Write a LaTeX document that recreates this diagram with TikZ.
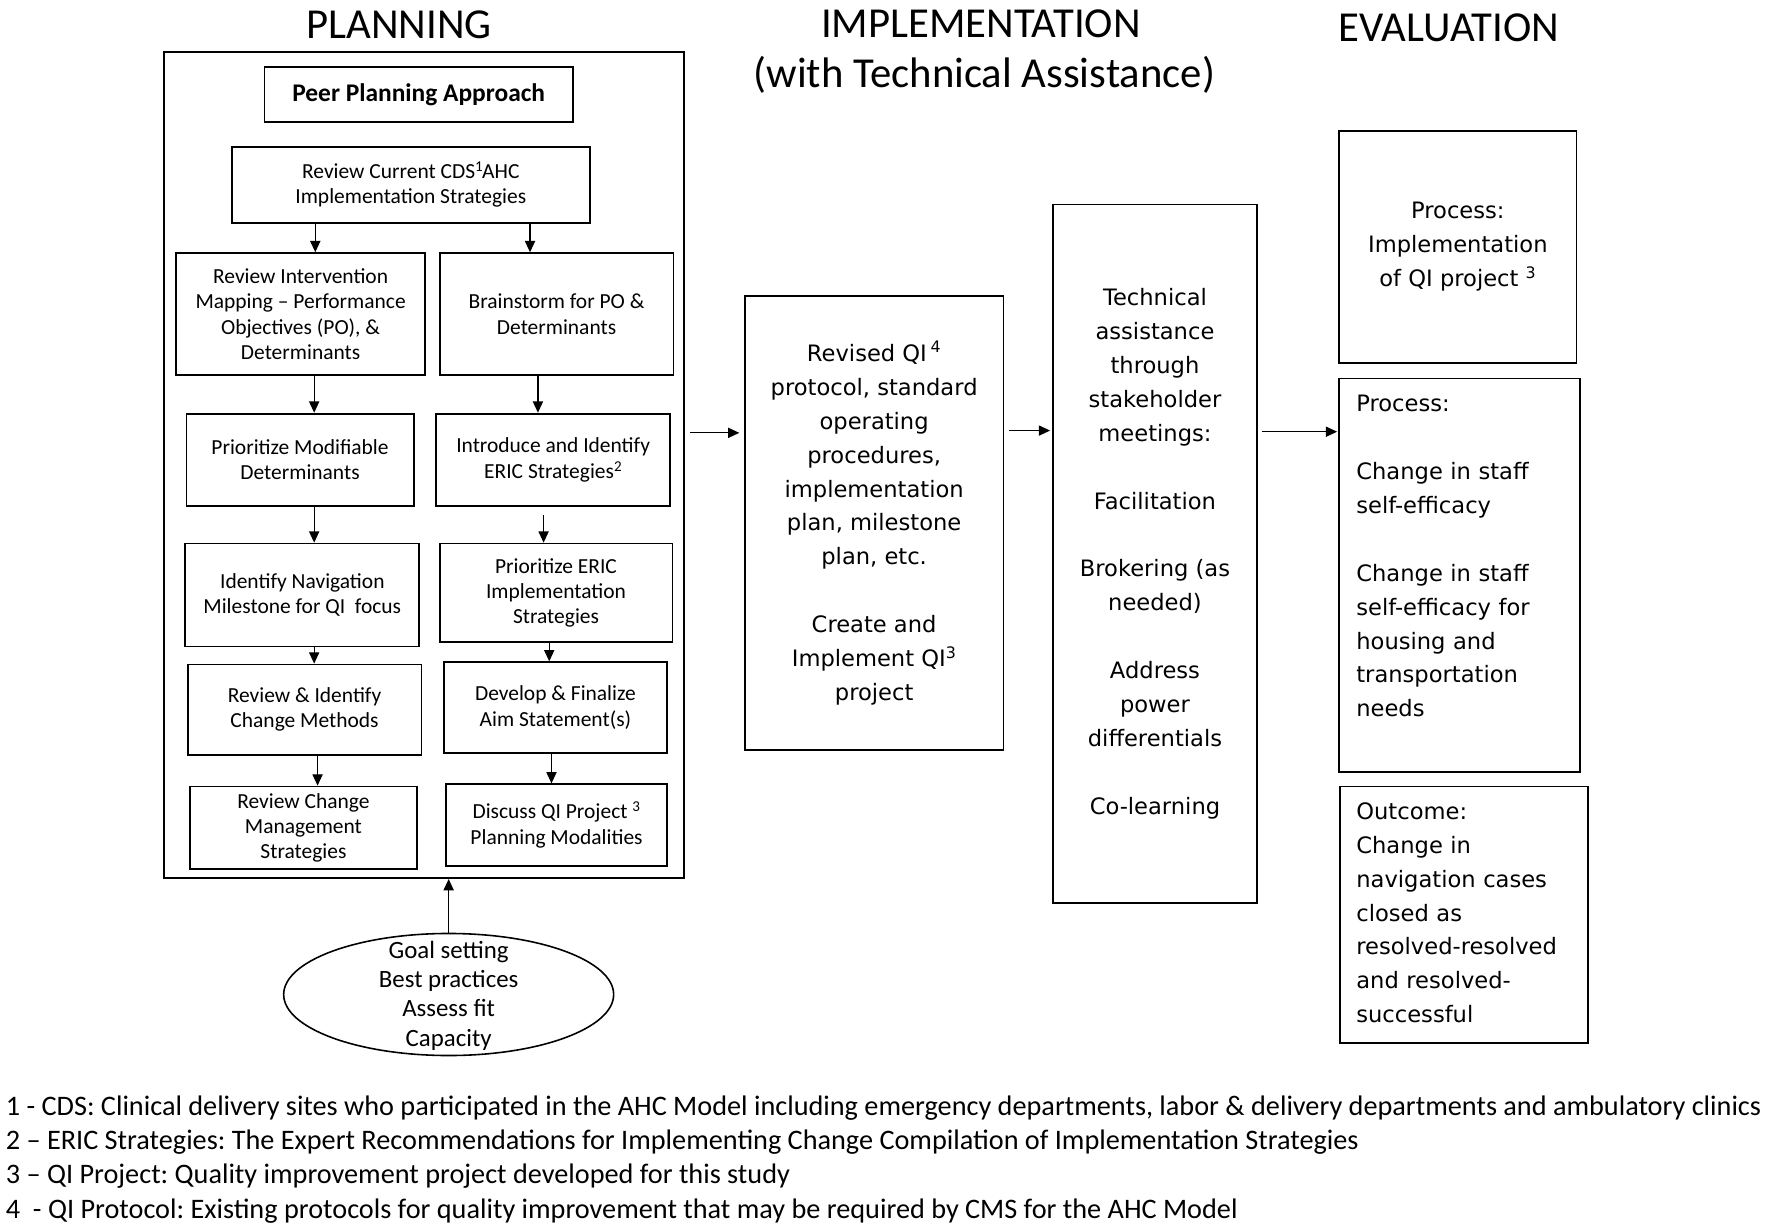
\documentclass[tikz,border=0pt]{standalone}
\usepackage{fontspec}
\setmainfont{Carlito}
\newfontfamily\dv{DejaVu Sans}
\usetikzlibrary{arrows.meta,shapes.geometric,calc}
\frenchspacing
\begin{document}
\begin{tikzpicture}[x=1pt,y=-1pt,
  box/.style={draw,line width=1.6pt,align=center,inner sep=0pt,font=\fontsize{19}{22.3}\selectfont},
  bigbox/.style={draw,line width=1.6pt,align=center,inner sep=0pt,font=\dv\fontsize{20}{30}\selectfont},
  plain/.style={draw,line width=1.6pt,inner sep=0pt},
  ltext/.style={anchor=north west,inner sep=0pt,text width=200pt,align=left,font=\dv\fontsize{20}{30}\selectfont},
  title/.style={anchor=base,inner sep=0pt,font=\fontsize{37.8}{40}\selectfont},
  foot/.style={anchor=base west,inner sep=0pt,font=\fontsize{25}{30}\selectfont},
  arr/.style={line width=1.1pt,-{Triangle[length=10pt,width=9pt]}}]
\useasboundingbox (0,0) rectangle (1568,1090);

% titles
\node[title] (tP) at (353,34) {PLANNING};
\node[title] (tI) at (868,33) {IMPLEMENTATION};
\node[title] (tI2) at (871,77) {(with Technical Assistance)};
\node[title] (tE) at (1282,37) {EVALUATION};

% planning
\node[plain,minimum width=460pt,minimum height=731pt] (plan) at (375,411.5) {};
\node[box,minimum width=273pt,minimum height=49pt,font=\bfseries\fontsize{22.5}{24}\selectfont] (peer) at (370.5,83.5) {Peer Planning Approach};
\node[box,minimum width=317pt,minimum height=67pt] (RC) at (363.5,163.5) {Review Current CDS\textsuperscript{1}\kern-1pt AHC\\Implementation Strategies};

\node[box,minimum width=220pt,minimum height=108pt] (L1) at (266,278) {Review Intervention\\Mapping – Performance\\Objectives (PO), \&\\Determinants};
\node[box,minimum width=201pt,minimum height=82pt] (L2) at (265.5,407) {Prioritize Modifiable\\Determinants};
\node[box,minimum width=207pt,minimum height=91pt] (L3) at (267.5,526.5) {Identify Navigation\\Milestone for QI\ \ focus};
\node[box,minimum width=207pt,minimum height=80pt] (L4) at (269.5,628) {Review \& Identify\\Change Methods};
\node[box,minimum width=201pt,minimum height=73pt] (L5) at (268.5,732.5) {Review Change\\Management\\Strategies};

\node[box,minimum width=207pt,minimum height=108pt] (R1) at (492.5,278) {Brainstorm for PO \&\\Determinants};
\node[box,minimum width=207pt,minimum height=82pt] (R2) at (489.5,407) {Introduce and Identify\\ERIC Strategies\textsuperscript{2}};
\node[box,minimum width=206pt,minimum height=87pt] (R3) at (492,524.5) {Prioritize ERIC\\Implementation\\Strategies};
\node[box,minimum width=197pt,minimum height=80pt] (R4) at (491.5,626) {Develop \& Finalize\\Aim Statement(s)};
\node[box,minimum width=195pt,minimum height=72pt] (R5) at (492.5,730) {Discuss QI Project \textsuperscript{3}\\Planning Modalities};

\draw[arr] ([xshift=-84.5pt]RC.south) -- ([xshift=-84.5pt]RC.south |- L1.north);
\draw[arr] ([xshift=105.5pt]RC.south) -- ([xshift=105.5pt]RC.south |- R1.north);
\draw[arr] ([xshift=12pt]L1.south) -- ([xshift=12pt]L1.south |- L2.north);
\draw[arr] ([xshift=12.5pt]L2.south) -- ([xshift=12.5pt]L2.south |- L3.north);
\draw[arr] ([xshift=10.5pt]L3.south) -- ([xshift=10.5pt]L3.south |- L4.north);
\draw[arr] ([xshift=11.5pt]L4.south) -- ([xshift=11.5pt]L4.south |- L5.north);
\draw[arr] ([xshift=-16.5pt]R1.south) -- ([xshift=-16.5pt]R1.south |- R2.north);
\draw[arr] ([xshift=-8.5pt,yshift=-7pt]R2.south) -- ([xshift=-8.5pt]R2.south |- R3.north);
\draw[arr] ([xshift=-6pt]R3.south) -- ([xshift=-6pt]R3.south |- R4.north);
\draw[arr] ([xshift=-3.5pt]R4.south) -- ([xshift=-3.5pt]R4.south |- R5.north);

% ellipse
\node[draw,ellipse,line width=1.4pt,minimum width=292pt,minimum height=108pt,inner sep=0pt] (ell) at (397,880) {};
\node[align=center,inner sep=0pt,font=\fontsize{22}{26}\selectfont] (ellt) at (397,881) {Goal setting\\Best practices\\Assess fit\\Capacity};
\draw[arr] (ell.north) -- (ell.north |- plan.south);

% implementation
\node[bigbox,minimum width=229pt,minimum height=402pt] (M) at (773.5,463) {Revised QI\,\textsuperscript{4}\\protocol, standard\\operating\\procedures,\\implementation\\plan, milestone\\plan, etc.\\[30pt]Create and\\Implement QI\textsuperscript{3}\\project};
\node[bigbox,minimum width=180pt,minimum height=618pt] (T) at (1022,490) {Technical\\assistance\\through\\stakeholder\\meetings:\\[30pt]Facilitation\\[30pt]Brokering (as\\needed)\\[30pt]Address\\power\\differentials\\[30pt]Co-learning};

\draw[arr] ([xshift=5pt,yshift=28.5pt]plan.east) coordinate (p1) -- ($(p1 -| M.west)+(-4,0)$);
\draw[arr] ([xshift=4pt,yshift=82pt]M.east) coordinate (p2) -- ($(p2 -| T.west)+(-2,0)$);

% evaluation
\node[bigbox,minimum width=210pt,minimum height=205pt] (E1) at (1290,218.5) {Process:\\Implementation\\of QI project \textsuperscript{3}};
\node[plain,minimum width=213pt,minimum height=348pt] (E2) at (1291.5,509) {};
\node[ltext] (E2t) at (1200,349.5) {Process:\\[30pt]Change in staff\\self-efficacy\\[30pt]Change in staff\\self-efficacy for\\housing and\\transportation\\needs};
\node[plain,minimum width=219pt,minimum height=227pt] (E3) at (1295.5,809.5) {};
\node[ltext] (E3t) at (1200,710) {Outcome:\\Change in\\navigation cases\\closed as\\resolved-resolved\\and resolved-\\successful};

\draw[arr] ([xshift=4pt,yshift=108pt]T.east) coordinate (p3) -- ($(p3 -| E2.west)+(-1,0)$);

% footnotes
\node[foot] (f1) at (5,987.5) {1 - CDS: Clinical delivery sites who participated in the AHC Model including emergency departments, labor \& delivery departments and ambulatory clinics};
\node[foot] (f2) at (5,1017.5) {2 – ERIC Strategies: The Expert Recommendations for Implementing Change Compilation of Implementation Strategies};
\node[foot] (f3) at (5,1047.5) {3 – QI Project: Quality improvement project developed for this study};
\node[foot] (f4) at (5,1078.5) {4 \ - QI Protocol: Existing protocols for quality improvement that may be required by CMS for the AHC Model};
\end{tikzpicture}
\end{document}
